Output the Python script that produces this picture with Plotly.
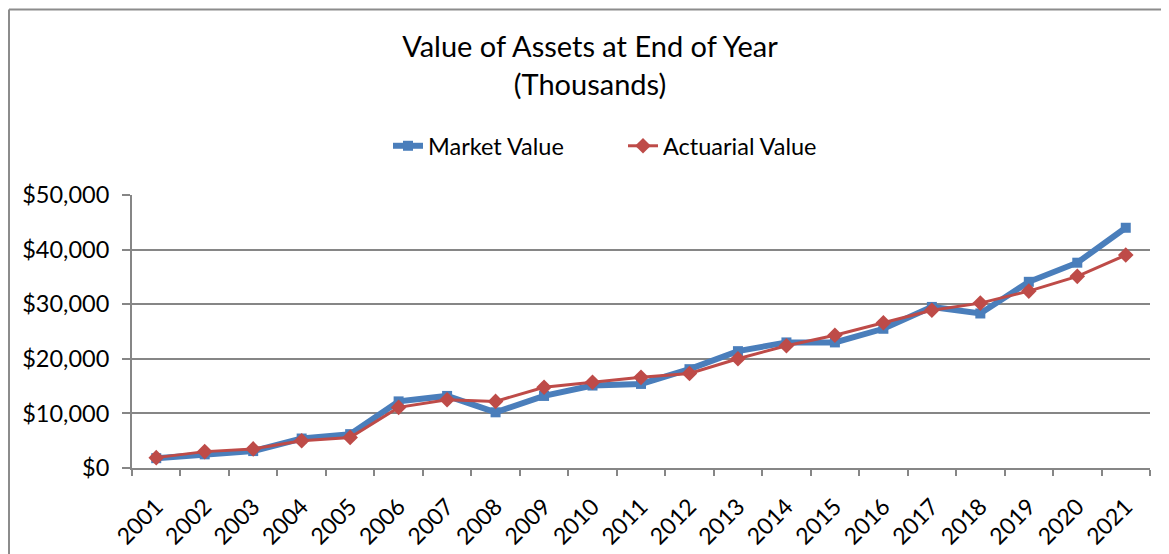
import plotly.graph_objects as go

years = [str(y) for y in range(2001, 2022)]
market_value = [1800, 2500, 3100, 5400, 6200, 12200, 13200, 10200, 13200, 15100, 15400,
                18100, 21400, 23000, 23000, 25500, 29500, 28300, 34100, 37600, 44000]
actuarial_value = [1900, 3000, 3500, 5000, 5600, 11100, 12500, 12200, 14800, 15700, 16600,
                   17300, 20000, 22400, 24300, 26600, 28900, 30200, 32400, 35100, 39000]
y_ticks = [0, 10000, 20000, 30000, 40000, 50000]
y_labels = ["$0", "$10,000", "$20,000", "$30,000", "$40,000", "$50,000"]

FONT = "Lato, 'Open Sans', sans-serif"
BLUE = "#4a7ebb"
RED = "#be4b48"
GRID = "#868686"

OFF = 8  # page body margin
W, H = 1169, 554
L, T = 132 - OFF, 195 - OFF
R = W - (1150 - OFF)
B = H - (468 - OFF)
PW = W - L - R
PH = H - T - B


def px_x(sx):
    return (sx - OFF - L) / PW


def px_y(sy):
    return (H - B - (sy - OFF)) / PH


fig = go.Figure()
fig.add_trace(go.Scatter(
    x=years, y=market_value, name="Market Value", mode="lines+markers",
    line=dict(color=BLUE, width=6), marker=dict(symbol="square", size=10, color=BLUE)))
fig.add_trace(go.Scatter(
    x=years, y=actuarial_value, name="Actuarial Value", mode="lines+markers",
    line=dict(color=RED, width=3), marker=dict(symbol="diamond", size=12, color=RED)))

fig.update_layout(
    width=W, height=H,
    paper_bgcolor="white", plot_bgcolor="white",
    margin=dict(l=L, r=R, t=T, b=B, autoexpand=False),
    font=dict(family=FONT, color="black"),
    title=dict(text="Value of Assets at End of Year<br>(Thousands)",
               x=(590 - OFF) / W, xanchor="center", y=1 - 49 / H, yanchor="top",
               font=dict(size=29, family=FONT, color="black")),
    legend=dict(orientation="h", x=px_x(388), xanchor="left",
                y=px_y(146), yanchor="middle",
                font=dict(size=23.5, family=FONT), entrywidth=190, traceorder="normal"),
    showlegend=True,
)
fig.update_xaxes(type="category", range=[-0.5, len(years) - 0.5],
                 showline=True, linecolor=GRID, linewidth=2,
                 ticks="outside", tickson="boundaries", ticklen=6, tickcolor=GRID, tickwidth=1.5,
                 tickangle=-45, ticklabelstandoff=14,
                 tickfont=dict(size=23, family=FONT), showgrid=False,
                 automargin=False)
fig.update_yaxes(range=[0, 50000], tickvals=y_ticks, ticktext=y_labels,
                 showline=True, linecolor=GRID, linewidth=2,
                 ticks="outside", ticklen=8, tickcolor=GRID, tickwidth=1.5,
                 ticklabelstandoff=8,
                 showgrid=True, gridcolor=GRID, gridwidth=1.5,
                 tickfont=dict(size=23.5, family=FONT), zeroline=False, automargin=False)

# outer chart border: only the left and top edges fall inside the picture
border = dict(color="#8c8c8c", width=2)
fig.add_shape(type="line", xref="paper", yref="paper",
              x0=px_x(9), x1=px_x(9), y0=px_y(600), y1=px_y(9.5), line=border, layer="below")
fig.add_shape(type="line", xref="paper", yref="paper",
              x0=px_x(9), x1=px_x(1300), y0=px_y(9.5), y1=px_y(9.5), line=border, layer="below")

fig.write_html("out.html")
